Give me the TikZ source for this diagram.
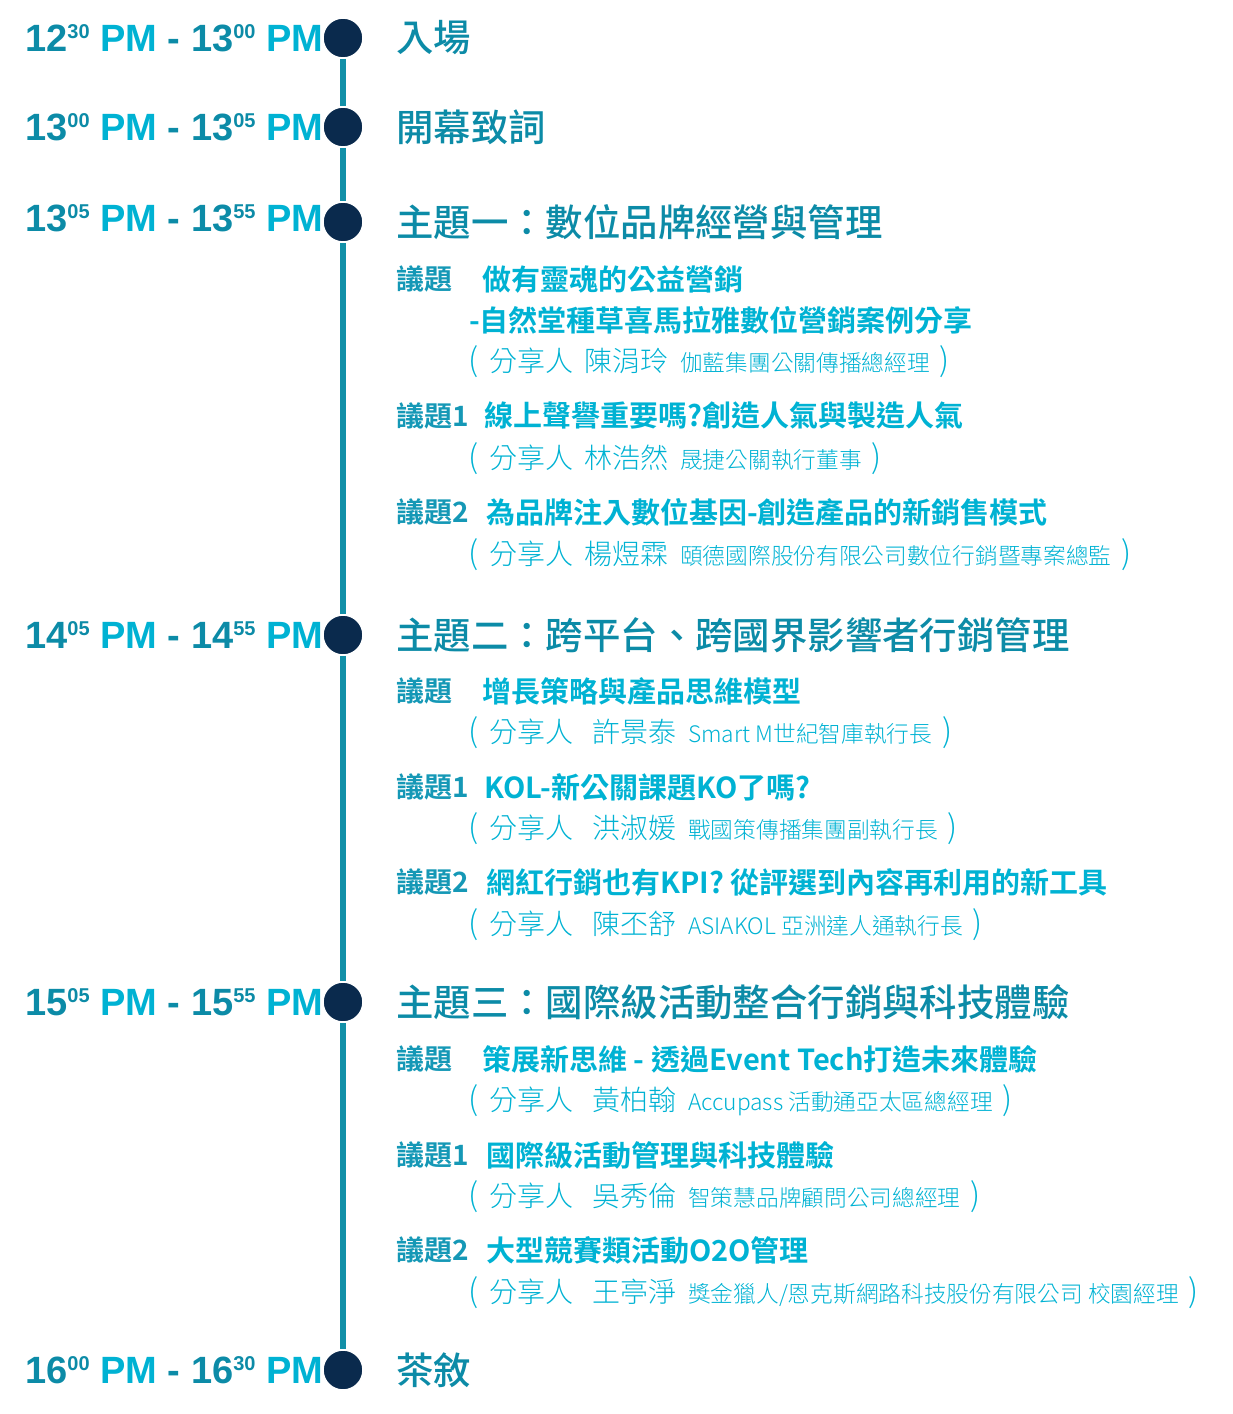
\documentclass[tikz,border=0pt]{standalone}
\usepackage{fontspec}
\newfontfamily\tmfont{Liberation Sans}
\newfontfamily\cjkb{Noto Sans CJK TC Bold}
\newfontfamily\cjkm{Noto Sans CJK TC Medium}
\newfontfamily\cjkl{Noto Sans CJK TC Light}
\definecolor{tealD}{HTML}{0C8BA7}
\definecolor{cyanB}{HTML}{00B2D3}
\definecolor{lblc}{HTML}{1598B6}
\definecolor{navy}{HTML}{0A2A4D}
\definecolor{linec}{HTML}{1290A8}
\newcommand\supx[1]{\raisebox{13pt}{\fontsize{20}{20}\selectfont #1}}
\newcommand\tmx[4]{\textcolor{tealD}{#1\supx{#2}} \textcolor{cyanB}{PM} \textcolor{tealD}{-} \textcolor{tealD}{#3\supx{#4}} \textcolor{cyanB}{PM}}
\newcommand\co[1]{{\fontsize{22.7}{22.7}\selectfont #1}}
\newcommand\pl{{\fontsize{32}{32}\selectfont(}}
\newcommand\pr{{\fontsize{32}{32}\selectfont)}}
\newcommand\spk[3]{\makebox[21pt][l]{\pl}分享人\hspace{#3}#1\hspace{12pt}\co{#2}\hspace{10pt}\pr}
\tikzset{
  tm/.style={anchor=west, inner sep=0pt, font=\tmfont\bfseries\fontsize{38}{38}\selectfont},
  hd/.style={anchor=west, inner sep=0pt, text=tealD, font=\cjkm\fontsize{37.4}{37.4}\selectfont},
  lbl/.style={anchor=west, inner sep=0pt, text=lblc, font=\cjkb\fontsize{28}{28}\selectfont},
  tp/.style={anchor=west, inner sep=0pt, text=cyanB, font=\cjkb\fontsize{29}{29}\selectfont},
  sp/.style={anchor=west, inner sep=0pt, text=cyanB, font=\cjkl\fontsize{28}{28}\selectfont},
  dot/.style={circle, inner sep=0pt, minimum size=40pt, fill=navy, draw=white, line width=1.5pt},
  seg/.style={draw=linec, line width=6pt}
}
\begin{document}
\begin{tikzpicture}[x=1pt,y=-1pt]
\useasboundingbox (0,0) rectangle (1233,1414);
% dots
\node[dot] (c1) at (343,38) {};
\node[dot] (c2) at (343,127) {};
\node[dot] (c3) at (343,222) {};
\node[dot] (c4) at (343,635) {};
\node[dot] (c5) at (343,1002) {};
\node[dot] (c6) at (343,1370) {};
\draw[seg] (c1) -- (c2);
\draw[seg] (c2) -- (c3);
\draw[seg] (c3) -- (c4);
\draw[seg] (c4) -- (c5);
\draw[seg] (c5) -- (c6);
% times
\node[tm] (t1) at (25,38) {\tmx{12}{30}{13}{00}};
\node[tm] (t2) at (25,127) {\tmx{13}{00}{13}{05}};
\node[tm] (t3) at (25,218) {\tmx{13}{05}{13}{55}};
\node[tm] (t4) at (25,635) {\tmx{14}{05}{14}{55}};
\node[tm] (t5) at (25,1002) {\tmx{15}{05}{15}{55}};
\node[tm] (t6) at (25,1370) {\tmx{16}{00}{16}{30}};
% headings
\node[hd] (h1) at (396,38) {入場};
\node[hd] (h2) at (396,127) {開幕致詞};
\node[hd] (h3) at (396,222) {主題一：數位品牌經營與管理};
\node[hd] (h4) at (396,635) {主題二：跨平台、跨國界影響者行銷管理};
\node[hd] (h5) at (396,1002) {主題三：國際級活動整合行銷與科技體驗};
\node[hd] (h6) at (396,1370) {茶敘};
% section 1
\node[lbl] (l11) at (396,279) {議題};
\node[tp] (p11) at (482,279) {做有靈魂的公益營銷};
\node[tp] (p11b) at (469,320) {-自然堂種草喜馬拉雅數位營銷案例分享};
\node[sp] (s11) at (468,362) {\spk{陳涓玲}{伽藍集團公關傳播總經理}{11pt}};
\node[lbl] (l12) at (396,416) {議題1};
\node[tp] (p12) at (484,416) {線上聲譽重要嗎?創造人氣與製造人氣};
\node[sp] (s12) at (468,459) {\spk{林浩然}{晟捷公關執行董事}{11pt}};
\node[lbl] (l13) at (396,512) {議題2};
\node[tp] (p13) at (486,512) {為品牌注入數位基因-創造產品的新銷售模式};
\node[sp] (s13) at (468,555) {\spk{楊煜霖}{頤德國際股份有限公司數位行銷暨專案總監}{11pt}};
% section 2
\node[lbl] (l21) at (396,691) {議題};
\node[tp] (p21) at (482,691) {增長策略與產品思維模型};
\node[sp] (s21) at (468,733) {\spk{許景泰}{Smart M世紀智庫執行長}{19pt}};
\node[lbl] (l22) at (396,787) {議題1};
\node[tp] (p22) at (484,787) {KOL-新公關課題KO了嗎?};
\node[sp] (s22) at (468,829) {\spk{洪淑媛}{戰國策傳播集團副執行長}{19pt}};
\node[lbl] (l23) at (396,882) {議題2};
\node[tp] (p23) at (486,882) {網紅行銷也有KPI? 從評選到內容再利用的新工具};
\node[sp] (s23) at (468,925) {\spk{陳丕舒}{ASIAKOL 亞洲達人通執行長}{19pt}};
% section 3
\node[lbl] (l31) at (396,1059) {議題};
\node[tp] (p31) at (482,1059) {策展新思維 - 透過Event Tech打造未來體驗};
\node[sp] (s31) at (468,1101) {\spk{黃柏翰}{Accupass 活動通亞太區總經理}{19pt}};
\node[lbl] (l32) at (396,1155) {議題1};
\node[tp] (p32) at (486,1155) {國際級活動管理與科技體驗};
\node[sp] (s32) at (468,1197) {\spk{吳秀倫}{智策慧品牌顧問公司總經理}{19pt}};
\node[lbl] (l33) at (396,1250) {議題2};
\node[tp] (p33) at (486,1250) {大型競賽類活動O2O管理};
\node[sp] (s33) at (468,1293) {\spk{王亭淨}{獎金獵人/恩克斯網路科技股份有限公司 校園經理}{19pt}};
\end{tikzpicture}
\end{document}
